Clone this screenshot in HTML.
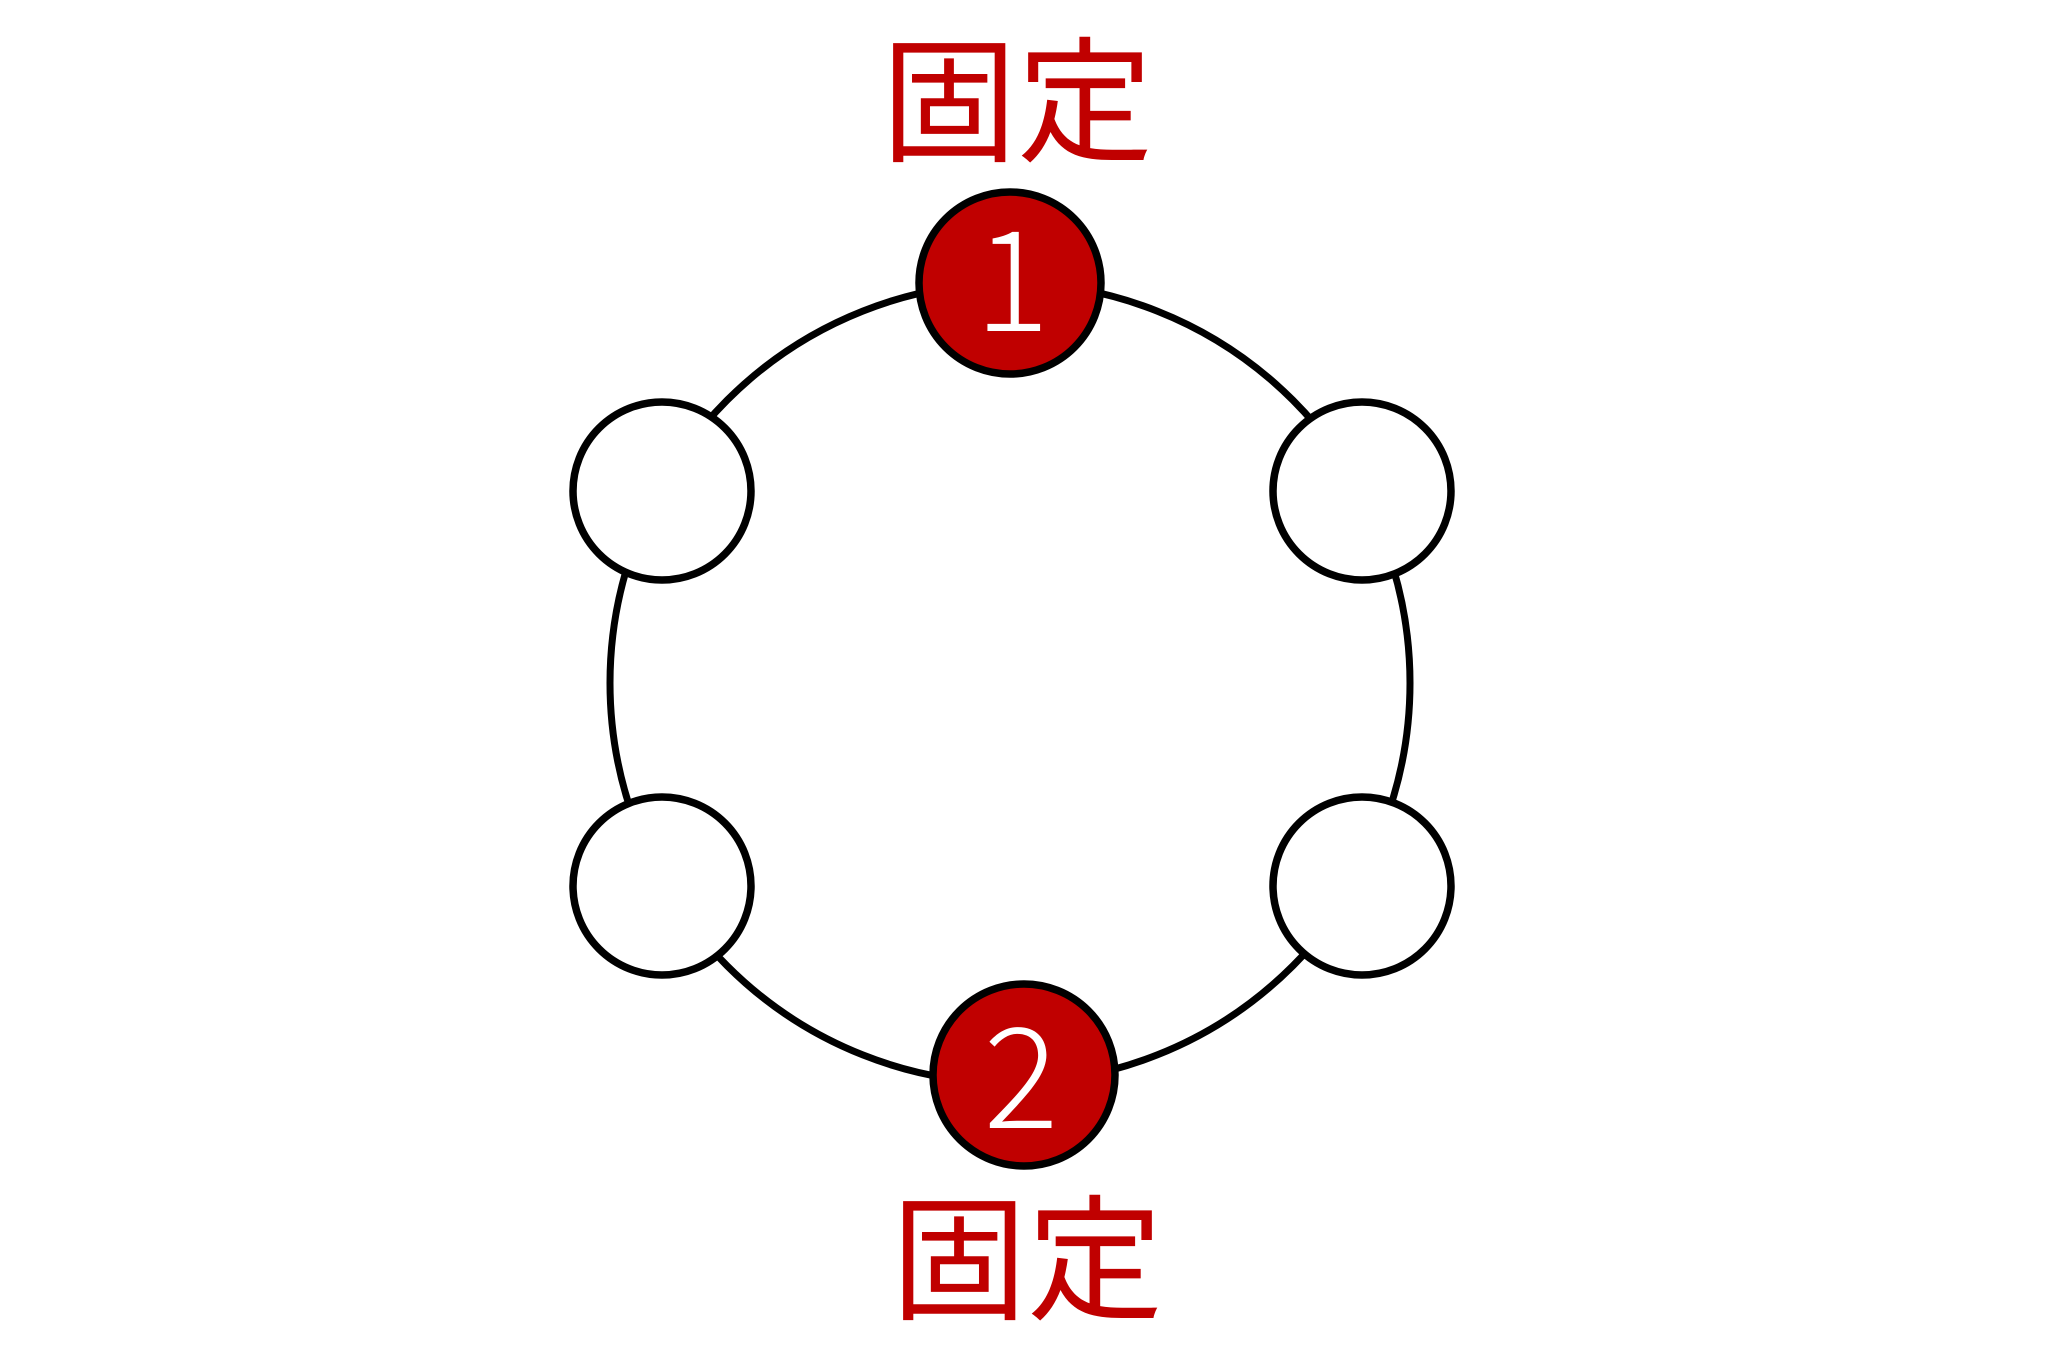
<!DOCTYPE html>
<html><head><meta charset="utf-8"><style>
html,body{margin:0;padding:0;background:#fff;}
</style></head><body>
<svg width="2048" height="1354" viewBox="0 0 2048 1354" xmlns="http://www.w3.org/2000/svg">
<rect width="2048" height="1354" fill="#fff"/>
<circle cx="1010" cy="683" r="400" fill="none" stroke="#000" stroke-width="7"/>
<g stroke="#000" stroke-width="7.5">
<circle cx="1010" cy="283" r="91" fill="#c00000"/>
<circle cx="662" cy="491" r="89" fill="#fff"/>
<circle cx="1362" cy="491" r="89" fill="#fff"/>
<circle cx="662" cy="886" r="89" fill="#fff"/>
<circle cx="1362" cy="886" r="89" fill="#fff"/>
<circle cx="1024" cy="1075" r="91" fill="#c00000"/>
</g>
<g font-family="'Noto Sans CJK JP', sans-serif" font-weight="300" fill="#fff" font-size="140" text-anchor="middle" dominant-baseline="central">
<text x="1012" y="271">1</text>
<text x="1021" y="1068">2</text>
</g>
<g font-family="'Liberation Sans','Noto Sans CJK JP',sans-serif" fill="#c00000" font-size="136" text-anchor="middle" dominant-baseline="central">
<text x="1017" y="104">固定</text>
<text x="1027" y="1262">固定</text>
</g>
</svg>
</body></html>
